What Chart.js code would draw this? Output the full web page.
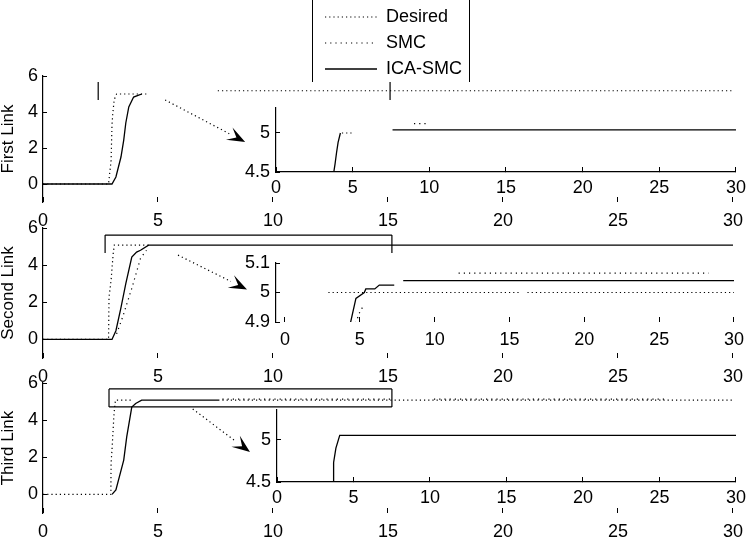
<!DOCTYPE html>
<html>
<head>
<meta charset="utf-8">
<title>First / Second / Third Link</title>
<script src="https://cdn.jsdelivr.net/npm/chart.js@4.4.1/dist/chart.umd.min.js"></script>
<style>
  body { margin: 0; background: #fff; }
  #fig { position: relative; width: 756px; height: 537px; overflow: hidden; background: #fff; }
  #fig > canvas { position: absolute; left: 0; top: 0; }
  #legBox { position: absolute; left: 312px; top: 0; width: 156px; height: 82px; border-left: 1px solid #000; border-right: 1px solid #000; }
  #legBox canvas { position: absolute; left: 0; top: 0; }
</style>
</head>
<body>
<div id="fig">
  <canvas id="m1" width="756" height="537"></canvas>
  <canvas id="m2" width="756" height="537"></canvas>
  <canvas id="m3" width="756" height="537"></canvas>
  <canvas id="i1" width="756" height="537"></canvas>
  <canvas id="i2" width="756" height="537"></canvas>
  <canvas id="i3" width="756" height="537"></canvas>
  <div id="legBox"><canvas id="leg" width="156" height="180"></canvas></div>
</div>
<script>
// graduations
const tTicks = [0, 5, 10, 15, 20, 25, 30];
const mainYTicks = [0, 2, 4, 6];
const in1YTicks = [4.5, 5];
const in2YTicks = [4.9, 5, 5.1];
const in3YTicks = [4.5, 5];

// First Link : [t, valeur], null = trou dans la courbe
const m1Desired = [[0, 0], [2.85, 0], [2.9, 0.6], [2.96, 1.3], [3.0, 3.3], [3.04, 4.0], [3.1, 4.7], [3.2, 5.0], [4.6, 5.0], [4.6, null], [7.6, 5.18], [30, 5.18]];
const m1Smc = [];
const m1Ica = [[0, 0], [3.0, 0], [3.17, 0.39], [3.39, 1.5], [3.51, 2.44], [3.6, 3.39], [3.73, 4.28], [3.94, 4.83], [4.16, 4.94], [4.3, 5.0]];

// Second Link
const m2Desired = [[0, 0], [2.85, 0], [2.87, 2.26], [2.96, 3.18], [3.05, 4.6], [3.1, 5.08], [4.6, 5.08]];
const m2Smc = [[3.2, 0.3], [3.47, 1.23], [3.86, 2.75], [4.24, 4.37], [4.5, 4.8]];
const m2Ica = [[0, 0], [3.0, 0], [3.17, 0.47], [3.39, 1.71], [3.6, 3.0], [3.86, 4.43], [4.07, 4.7], [4.24, 4.8], [4.59, 5.08], [30, 5.08]];

// Third Link
const m3Desired = [[0, 0], [2.95, 0], [2.96, 1.69], [3.0, 2.4], [3.09, 4.39], [3.15, 5.08], [3.94, 5.08], [3.94, null], [7.8, 5.08], [30, 5.08]];
const m3Smc = [[7.8, 5.13], [15.1, 5.13], [15.1, null], [17.0, 5.13], [27.0, 5.13]];
const m3Ica = [[3.0, 0], [3.17, 0.24], [3.51, 1.85], [3.64, 3.1], [3.86, 4.7], [4.03, 4.9], [4.29, 5.08], [7.67, 5.08]];

// zooms
const i1Desired = [[4.3, 5.0], [5.1, 5.0]];
const i1Smc = [[9.0, 5.12], [10.0, 5.12]];
const i1Ica = [[3.77, 4.5], [3.85, 4.6], [3.95, 4.75], [4.05, 4.88], [4.2, 5.0], [4.2, null], [7.6, 5.04], [30, 5.04]];

const i2Desired = [[2.9, 5.0], [15.8, 5.0], [15.8, null], [16.2, 5.0], [30, 5.0]];
const i2Smc = [[4.6, 4.88], [5.0, 4.934], [5.3, 4.96], [5.3, null], [11.6, 5.066], [28.3, 5.066]];
const i2Ica = [[4.3, 4.88], [4.74, 4.98], [5.3, 5.0], [5.4, 5.012], [6.0, 5.012], [6.3, 5.025], [7.3, 5.025], [7.3, null], [7.9, 5.04], [30, 5.04]];

const i3Desired = [];
const i3Smc = [];
const i3Ica = [[3.7, 4.5], [3.7, 4.73], [3.85, 4.9], [4.1, 5.05], [30, 5.05]];

const FONT = "'Liberation Sans', Arial, Helvetica, sans-serif";
Chart.defaults.font.family = FONT;
Chart.defaults.color = '#000';
Chart.defaults.animation = false;
Chart.defaults.responsive = false;
Chart.defaults.plugins.legend.display = false;
Chart.defaults.plugins.tooltip.enabled = false;

const W = 756, H = 537;

function toPts(arr) {
  return arr.map(p => ({ x: p[0], y: p[1] }));
}

function series(desired, smc, ica) {
  return [
    { label: 'Desired', data: toPts(desired), borderColor: '#000', borderWidth: 1.2, borderDash: [1.2, 3], pointRadius: 0 },
    { label: 'SMC', data: toPts(smc), borderColor: '#000', borderWidth: 1.2, borderDash: [1.2, 4], pointRadius: 0 },
    { label: 'ICA-SMC', data: toPts(ica), borderColor: '#000', borderWidth: 1.3, pointRadius: 0 }
  ];
}

// rectangle de zoom + fleche vers l'encart, en coordonnees des axes
function zoomMarks(marks) {
  return {
    id: 'zoomMarks',
    afterDatasetsDraw(chart) {
      if (!marks) return;
      const ctx = chart.ctx, x = chart.scales.x, y = chart.scales.y;
      const b = marks.box;
      const x0 = x.getPixelForValue(b[0]), x1 = x.getPixelForValue(b[1]);
      const yb = y.getPixelForValue(b[2]), yt = y.getPixelForValue(b[3]);
      ctx.save();
      ctx.strokeStyle = '#000';
      ctx.fillStyle = '#000';
      ctx.lineWidth = 1.2;
      ctx.beginPath();
      if (marks.edges.includes('t')) { ctx.moveTo(x0, yt); ctx.lineTo(x1, yt); }
      if (marks.edges.includes('b')) { ctx.moveTo(x0, yb); ctx.lineTo(x1, yb); }
      if (marks.edges.includes('l')) { ctx.moveTo(x0, yt); ctx.lineTo(x0, yb); }
      if (marks.edges.includes('r')) { ctx.moveTo(x1, yt); ctx.lineTo(x1, yb); }
      ctx.stroke();

      const a = marks.arrow;
      const ax = x.getPixelForValue(a[0]), ay = y.getPixelForValue(a[1]);
      const bx = x.getPixelForValue(a[2]), by = y.getPixelForValue(a[3]);
      const ang = Math.atan2(by - ay, bx - ax);
      const c = Math.cos(ang), s = Math.sin(ang);
      const head = 18, half = 7;
      ctx.setLineDash([1.2, 3]);
      ctx.beginPath();
      ctx.moveTo(ax, ay);
      ctx.lineTo(bx - head * c, by - head * s);
      ctx.stroke();
      ctx.setLineDash([]);
      ctx.beginPath();
      ctx.moveTo(bx, by);
      ctx.lineTo(bx - head * c + half * s, by - head * s - half * c);
      ctx.lineTo(bx - 0.55 * head * c, by - 0.55 * head * s);
      ctx.lineTo(bx - head * c - half * s, by - head * s + half * c);
      ctx.closePath();
      ctx.fill();
      ctx.restore();
    }
  };
}

function drawAxes(id, area, xRange, yRange, yTicks, opt) {
  const yW = opt.yW;
  const xH = Math.min(32, H - area.bottom);
  new Chart(document.getElementById(id), {
    type: 'line',
    data: { datasets: opt.datasets },
    plugins: [zoomMarks(opt.marks)],
    options: {
      layout: { padding: { left: area.left - yW, top: area.top, right: W - area.right, bottom: H - area.bottom - xH } },
      scales: {
        x: {
          type: 'linear', min: xRange[0], max: xRange[1],
          afterFit: s => { s.height = xH; },
          afterBuildTicks: s => { s.ticks = tTicks.map(v => ({ value: v })); },
          border: { display: opt.xBorder, color: '#000', width: 1.2 },
          grid: { drawOnChartArea: false, color: '#000', tickLength: -5 },
          ticks: { padding: opt.xPad, maxRotation: 0, autoSkip: false, font: { size: 18 }, callback: v => String(v) }
        },
        y: {
          type: 'linear', min: yRange[0], max: yRange[1],
          afterFit: s => { s.width = yW; },
          afterBuildTicks: s => { s.ticks = yTicks.map(v => ({ value: v })); },
          border: { display: true, color: '#000', width: 1.2 },
          grid: { drawOnChartArea: false, color: '#000', tickLength: -4 },
          ticks: { padding: opt.yPad, autoSkip: false, font: { size: 18 }, callback: v => String(v) },
          title: opt.yTitle
            ? { display: true, text: opt.yTitle, font: { size: 17, lineHeight: 1 }, padding: { top: 0, bottom: 0 } }
            : { display: false }
        }
      }
    }
  });
}

// les trois liaisons
drawAxes('m1', { left: 43, top: 76, right: 743, bottom: 202 }, [0, 30], [-1, 6], mainYTicks, {
  yW: 43, yPad: 9, xPad: 13, xBorder: false, yTitle: 'First Link',
  datasets: series(m1Desired, m1Smc, m1Ica),
  marks: { box: [2.4, 15.09, 4.67, 5.67], edges: 'lr', arrow: [5.31, 4.67, 8.79, 2.33] }
});
drawAxes('m2', { left: 43, top: 228, right: 743, bottom: 358 }, [0, 30], [-1, 6], mainYTicks, {
  yW: 43, yPad: 9, xPad: 13, xBorder: false, yTitle: 'Second Link',
  datasets: series(m2Desired, m2Smc, m2Ica),
  marks: { box: [2.7, 15.17, 4.65, 5.62], edges: 'tlr', arrow: [5.87, 4.54, 8.87, 2.69] }
});
drawAxes('m3', { left: 43, top: 383, right: 743, bottom: 513 }, [0, 30], [-1, 6], mainYTicks, {
  yW: 43, yPad: 9, xPad: 13, xBorder: false, yTitle: 'Third Link',
  datasets: series(m3Desired, m3Smc, m3Ica),
  marks: { box: [2.87, 15.17, 4.71, 5.68], edges: 'tblr', arrow: [6.51, 4.6, 9.0, 2.28] }
});

// encarts (zoom autour de 5)
drawAxes('i1', { left: 276, top: 108, right: 745, bottom: 172 }, [0, 30], [4.5, 5.32], in1YTicks, {
  yW: 40, yPad: 10, xPad: 10, xBorder: true, datasets: series(i1Desired, i1Smc, i1Ica)
});
drawAxes('i2', { left: 276, top: 263, right: 747, bottom: 322 }, [-0.6, 30], [4.9, 5.1], in2YTicks, {
  yW: 40, yPad: 10, xPad: 12, xBorder: false, datasets: series(i2Desired, i2Smc, i2Ica)
});
drawAxes('i3', { left: 277, top: 410, right: 746, bottom: 482 }, [0, 30], [4.5, 5.35], in3YTicks, {
  yW: 40, yPad: 10, xPad: 10, xBorder: true, datasets: series(i3Desired, i3Smc, i3Ica)
});

// legende : le style pointStyle ne reprend pas les pointilles, on les remet
new Chart(document.getElementById('leg'), {
  type: 'line',
  data: { datasets: series([], [], []) },
  options: {
    layout: { padding: { left: 4 } },
    scales: { x: { display: false }, y: { display: false } },
    plugins: {
      legend: {
        display: true, position: 'top', align: 'start',
        labels: {
          usePointStyle: true, pointStyle: 'line', pointStyleWidth: 52, padding: 8, color: '#000', font: { size: 18 },
          generateLabels: chart => Chart.defaults.plugins.legend.labels.generateLabels(chart).map((item, i) => {
            const ds = chart.data.datasets[i];
            item.lineDash = ds.borderDash || [];
            item.lineWidth = ds.borderWidth;
            item.strokeStyle = '#000';
            return item;
          })
        }
      }
    }
  }
});
</script>
</body>
</html>
